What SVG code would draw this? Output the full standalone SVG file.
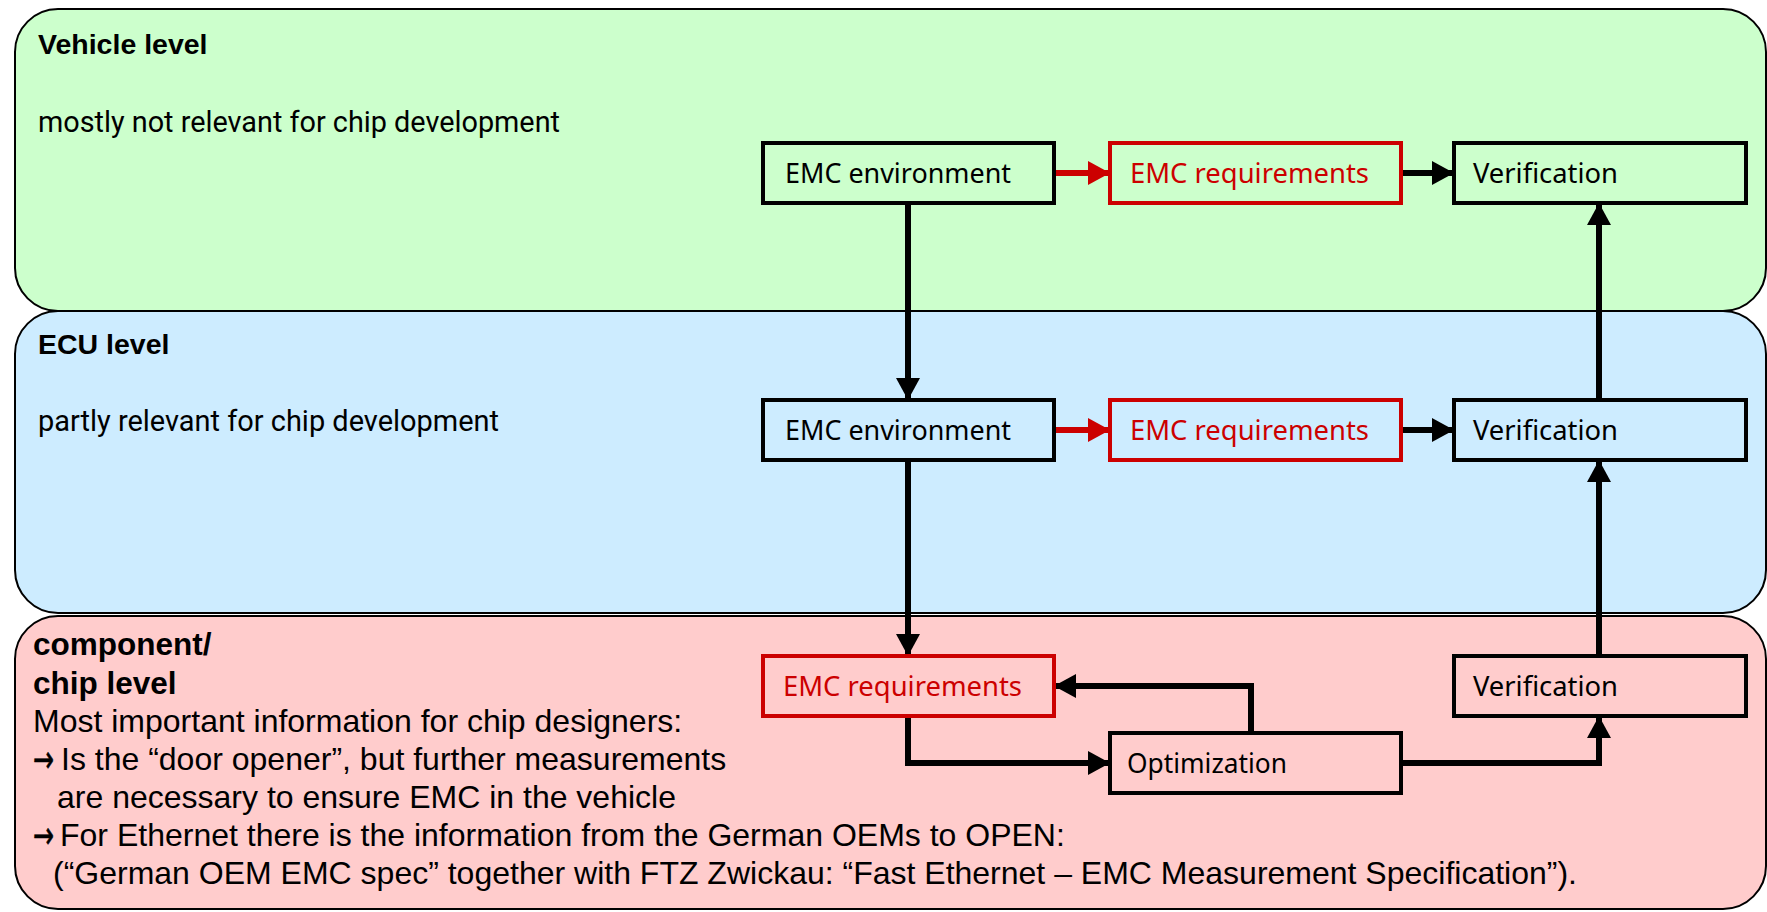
<svg xmlns="http://www.w3.org/2000/svg" width="1767" height="912" viewBox="0 0 1767 912">
  <defs>
    <marker id="head" markerUnits="userSpaceOnUse" markerWidth="22" markerHeight="24" refX="22" refY="12" orient="auto">
      <path d="M0,0 L22,12 L0,24 z" fill="#000"/>
    </marker>
    <marker id="head-red" markerUnits="userSpaceOnUse" markerWidth="22" markerHeight="24" refX="22" refY="12" orient="auto">
      <path d="M0,0 L22,12 L0,24 z" fill="#cc0000"/>
    </marker>
  </defs>
  <style>
    .panel { stroke: #000; stroke-width: 2; }
    .box { fill: none; stroke: #000; stroke-width: 4; }
    .box.req { stroke: #cc0000; }
    .lbl { font-family: "Noto Sans", "Liberation Sans", sans-serif; font-size: 27px; fill: #000; }
    .lbl.req { fill: #cc0000; }
    .title { font-family: "Liberation Sans", Arial, sans-serif; font-weight: bold; font-size: 28.5px; fill: #000; }
    .desc { font-family: Roboto, "Liberation Sans", sans-serif; font-size: 29.5px; fill: #000; }
    .note { font-family: "Liberation Sans", Arial, sans-serif; font-size: 32px; fill: #000; }
    .note-b { font-family: "Liberation Sans", Arial, sans-serif; font-size: 31.5px; font-weight: bold; fill: #000; }
    .bullet { font-family: "DejaVu Sans", sans-serif; font-size: 38px; fill: #000; stroke: #000; stroke-width: 0.6; }
    .conn { fill: none; stroke: #000; stroke-width: 6; stroke-linejoin: miter; marker-end: url(#head); }
    .conn.red { stroke: #cc0000; marker-end: url(#head-red); }
  </style>

  <!-- level bands -->
  <g id="vehicle-level">
    <rect class="panel" x="15" y="9" width="1751" height="302" rx="43" ry="43" fill="#ccffcc"/>
    <text class="title" x="38" y="54">Vehicle level</text>
    <text class="desc" x="38" y="132" textLength="522" lengthAdjust="spacingAndGlyphs">mostly not relevant for chip development</text>
  </g>
  <g id="ecu-level">
    <rect class="panel" x="15" y="311" width="1751" height="302" rx="43" ry="43" fill="#cdecff"/>
    <text class="title" x="38" y="354">ECU level</text>
    <text class="desc" x="38" y="431" textLength="461" lengthAdjust="spacingAndGlyphs">partly relevant for chip development</text>
  </g>
  <g id="chip-level">
    <rect class="panel" x="15" y="616" width="1751" height="293" rx="43" ry="43" fill="#ffcccc"/>
    <text class="note-b" x="33" y="655">component/</text>
    <text class="note-b" x="33" y="694">chip level</text>
    <text class="note" x="33" y="732">Most important information for chip designers:</text>
    <!-- bullet arrows, narrowed to the bullet column -->
    <text class="bullet" transform="translate(33,772) scale(0.66,1)">→</text>
    <text class="note" x="61" y="770">Is the “door opener”, but further measurements</text>
    <text class="note" x="57" y="808">are necessary to ensure EMC in the vehicle</text>
    <text class="bullet" transform="translate(33,848) scale(0.66,1)">→</text>
    <text class="note" x="60" y="846">For Ethernet there is the information from the German OEMs to OPEN:</text>
    <text class="note" x="53" y="884">(“German OEM EMC spec” together with FTZ Zwickau: “Fast Ethernet – EMC Measurement Specification”).</text>
  </g>

  <!-- connectors -->
  <g id="connectors">
    <path class="conn red" d="M1054,173 H1110"/>
    <path class="conn" d="M1401,173 H1454"/>
    <path class="conn red" d="M1054,430 H1110"/>
    <path class="conn" d="M1401,430 H1454"/>
    <path class="conn" d="M908,203 V400"/>
    <path class="conn" d="M1599,400 V203"/>
    <path class="conn" d="M908,460 V656"/>
    <path class="conn" d="M1599,656 V460"/>
    <path class="conn" d="M908,716 V763 H1110"/>
    <path class="conn" d="M1251,733 V686 H1054"/>
    <path class="conn" d="M1401,763 H1599 V716"/>
  </g>

  <!-- vehicle row -->
  <g id="veh-env">
    <rect class="box" x="763" y="143" width="291" height="60"/>
    <text class="lbl" x="785" y="183" textLength="226" lengthAdjust="spacingAndGlyphs">EMC environment</text>
  </g>
  <g id="veh-req">
    <rect class="box req" x="1110" y="143" width="291" height="60"/>
    <text class="lbl req" x="1130" y="183" textLength="239" lengthAdjust="spacingAndGlyphs">EMC requirements</text>
  </g>
  <g id="veh-ver">
    <rect class="box" x="1454" y="143" width="292" height="60"/>
    <text class="lbl" x="1473" y="183" textLength="145" lengthAdjust="spacingAndGlyphs">Verification</text>
  </g>

  <!-- ECU row -->
  <g id="ecu-env">
    <rect class="box" x="763" y="400" width="291" height="60"/>
    <text class="lbl" x="785" y="440" textLength="226" lengthAdjust="spacingAndGlyphs">EMC environment</text>
  </g>
  <g id="ecu-req">
    <rect class="box req" x="1110" y="400" width="291" height="60"/>
    <text class="lbl req" x="1130" y="440" textLength="239" lengthAdjust="spacingAndGlyphs">EMC requirements</text>
  </g>
  <g id="ecu-ver">
    <rect class="box" x="1454" y="400" width="292" height="60"/>
    <text class="lbl" x="1473" y="440" textLength="145" lengthAdjust="spacingAndGlyphs">Verification</text>
  </g>

  <!-- component / chip row -->
  <g id="chip-req">
    <rect class="box req" x="763" y="656" width="291" height="60"/>
    <text class="lbl req" x="783" y="696" textLength="239" lengthAdjust="spacingAndGlyphs">EMC requirements</text>
  </g>
  <g id="chip-opt">
    <rect class="box" x="1110" y="733" width="291" height="60"/>
    <text class="lbl" x="1127" y="773" textLength="160" lengthAdjust="spacingAndGlyphs">Optimization</text>
  </g>
  <g id="chip-ver">
    <rect class="box" x="1454" y="656" width="292" height="60"/>
    <text class="lbl" x="1473" y="696" textLength="145" lengthAdjust="spacingAndGlyphs">Verification</text>
  </g>
</svg>
